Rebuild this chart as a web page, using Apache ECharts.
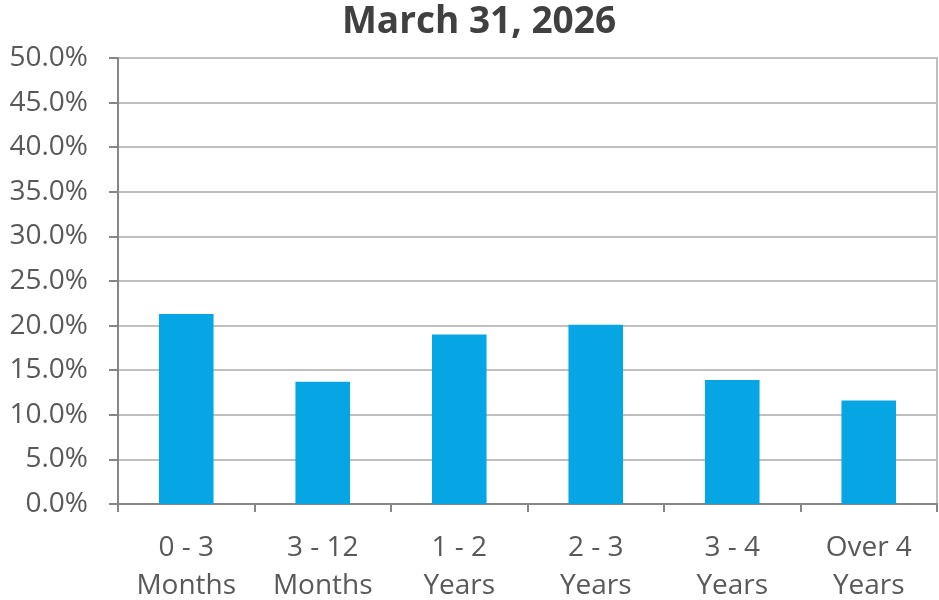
<!DOCTYPE html>
<html>
<head>
<meta charset="utf-8">
<script src="https://cdn.jsdelivr.net/npm/echarts@6/dist/echarts.min.js"></script>
<style>html,body{margin:0;padding:0;background:#fff}#c{width:939px;height:600px}</style>
</head>
<body>
<div id="c"></div>
<script>
var title = 'March 31, 2026';
var categories = ['0 - 3\nMonths', '3 - 12\nMonths', '1 - 2\nYears', '2 - 3\nYears', '3 - 4\nYears', 'Over 4\nYears'];
var values = [21.3, 13.7, 19.0, 20.1, 13.9, 11.6];
var yMin = 0, yMax = 50, yStep = 5;

var chart = echarts.init(document.getElementById('c'), null, {renderer: 'canvas'});
chart.setOption({
  animation: false,
  backgroundColor: '#ffffff',
  title: {
    text: title,
    left: 474,
    textAlign: 'center',
    top: -1,
    textStyle: {fontFamily: 'Open Sans', fontWeight: 'bold', fontSize: 37, color: '#404040'}
  },
  grid: {
    left: 118, right: 2, top: 58, bottom: 96,
    outerBoundsMode: 'none',
    containLabel: false,
    show: true, borderColor: '#bfbfbf', borderWidth: 2
  },
  xAxis: {
    type: 'category',
    data: categories,
    axisLine: {lineStyle: {color: '#868686', width: 2}},
    axisTick: {show: true, length: 8, alignWithLabel: false, lineStyle: {color: '#868686', width: 2}},
    axisLabel: {fontFamily: 'Open Sans', fontSize: 28, color: '#595959', lineHeight: 38, margin: 25, interval: 0}
  },
  yAxis: {
    type: 'value',
    min: yMin, max: yMax, interval: yStep,
    axisLine: {show: true, lineStyle: {color: '#868686', width: 2}},
    axisTick: {show: true, length: 9, lineStyle: {color: '#868686', width: 2}},
    splitLine: {lineStyle: {color: '#bfbfbf', width: 2}},
    axisLabel: {fontFamily: 'Open Sans', fontSize: 28, color: '#595959', margin: 30,
      formatter: function (v) { return v.toFixed(1) + '%'; }}
  },
  series: [{
    type: 'bar',
    data: values,
    barWidth: '40%',
    itemStyle: {color: '#06A5E3'}
  }]
});
</script>
</body>
</html>
